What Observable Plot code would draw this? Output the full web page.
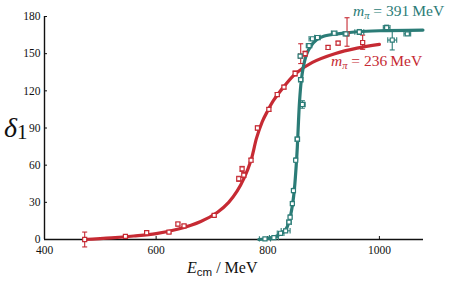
<!DOCTYPE html>
<html><head><meta charset="utf-8">
<script src="https://cdn.jsdelivr.net/npm/d3@7"></script>
<script src="https://cdn.jsdelivr.net/npm/@observablehq/plot@0.6"></script>
<style>
body{margin:0;background:#fff;}
#chart svg{overflow:visible;}
#chart svg text{font-family:"Liberation Serif","DejaVu Serif",serif;}
#chart svg g[aria-label$="tick label"]{font-size:11.5px;}
</style>
</head><body><div id="chart"></div>
<script>
// ---- data ----
const yTicks = [0, 30, 60, 90, 120, 150, 180];
const xTicks = [400, 600, 800, 1000];

// fitted curve, m_pi = 236 MeV
const curve236E = [470, 520, 560, 600, 640, 680, 710, 730, 745, 758, 770, 780, 790, 800, 810, 830, 850, 880, 920, 960, 1000];
const curve236D = [0, 1.3, 2.8, 4.8, 8.5, 14.5, 22, 30, 39, 50, 64, 82, 95, 104, 112, 124, 134, 143, 150, 154.5, 157.5];

// fitted curve, m_pi = 391 MeV
const curve391E = [784, 800, 811, 823, 832, 838, 842, 845, 848, 851, 853, 855, 857, 860, 864, 870, 877, 887, 900, 925, 960, 1000, 1078];
const curve391D = [0, 0.8, 1.9, 4.5, 8, 14, 22, 30, 42, 60, 75, 95, 112, 128, 140, 150, 156, 161, 164, 166, 167.7, 168.5, 169];

// lattice points, m_pi = 236 MeV (energy, phase, lower err, upper err)
const pts236E  = [472, 545, 583, 623, 639, 650, 704, 748, 754, 757, 770, 781.5, 802, 817, 829, 849, 859, 867, 908, 926, 942, 970];
const pts236D  = [0, 2.5, 5.5, 6, 12.5, 11, 19.5, 49, 57, 52, 64, 90, 105, 117, 123, 134, 148, 150, 155, 158.5, 166, 159];
const pts236Lo = [6, 1, 1.5, 1, 1.5, 1, 1, 2, 2, 2, 1.5, 1.5, 1.5, 1.5, 1.5, 2, 6, 2, 1.5, 1.5, 10, 5.5];
const pts236Hi = [6, 1, 1.5, 1, 1.5, 1, 1, 2, 2, 2, 1.5, 1.5, 1.5, 1.5, 1.5, 2, 10, 2, 1.5, 1.5, 13, 6];

// lattice points, m_pi = 391 MeV (energy, phase, energy err, phase err)
const pts391E  = [795, 811, 823, 832, 838, 840, 844, 846, 850, 853, 862, 859, 858, 874, 880, 889, 919, 940, 964, 1013, 1023, 1050];
const pts391D  = [0.5, 1.5, 5, 7, 14, 18, 29, 39.5, 64, 81, 109, 129, 148, 156.5, 162, 163, 166.5, 166, 167.5, 171, 161, 166];
const pts391Ex = [10, 8, 6, 8, 4, 3, 2, 2, 2, 4, 5, 4, 3, 5, 6, 5, 5, 5, 8, 6, 8, 6];
const pts391Ey = [0, 0, 0, 0, 0, 0, 0, 0, 0, 0, 3, 0, 0, 0, 0, 0, 0, 0, 2, 2, 8, 0];

const red = "#c62a33", teal = "#2b7c77";

// ---- tables ----
const c236 = curve236E.map((e, i) => ({E: e, d: curve236D[i]}));
const c391 = curve391E.map((e, i) => ({E: e, d: curve391D[i]}));
const p236 = pts236E.map((e, i) => ({E: e, d: pts236D[i], lo: pts236Lo[i], hi: pts236Hi[i]}));
const p391 = pts391E.map((e, i) => ({E: e, d: pts391D[i], ex: pts391Ex[i], ey: pts391Ey[i]}));

const capE = 4.5, capD = 2.2;
// derived error-bar geometry
const v236 = p236.map(p => ({x1: p.E, x2: p.E, y1: p.d - p.lo, y2: p.d + p.hi}));
const cap236 = p236.flatMap(p => [
  {x1: p.E - capE, x2: p.E + capE, y1: p.d - p.lo, y2: p.d - p.lo},
  {x1: p.E - capE, x2: p.E + capE, y1: p.d + p.hi, y2: p.d + p.hi}]);
const h391 = p391.filter(p => p.ex > 0).map(p => ({x1: p.E - p.ex, x2: p.E + p.ex, y1: p.d, y2: p.d}));
const hcap391 = p391.filter(p => p.ex > 0).flatMap(p => [
  {x1: p.E - p.ex, x2: p.E - p.ex, y1: p.d - capD, y2: p.d + capD},
  {x1: p.E + p.ex, x2: p.E + p.ex, y1: p.d - capD, y2: p.d + capD}]);
const v391 = p391.filter(p => p.ey > 0).map(p => ({x1: p.E, x2: p.E, y1: p.d - p.ey, y2: p.d + p.ey}));
const vcap391 = p391.filter(p => p.ey > 0).flatMap(p => [
  {x1: p.E - capE, x2: p.E + capE, y1: p.d - p.ey, y2: p.d - p.ey},
  {x1: p.E - capE, x2: p.E + capE, y1: p.d + p.ey, y2: p.d + p.ey}]);

const linkOpts = (color) => ({x1: "x1", x2: "x2", y1: "y1", y2: "y2", stroke: color, strokeWidth: 1.1});

const plot = Plot.plot({
  width: 463, height: 281,
  marginLeft: 44, marginRight: 40, marginTop: 16, marginBottom: 42,
  x: {domain: [400, 1079]},
  y: {domain: [0, 180]},
  style: {fontSize: "11.5px", background: "#fff"},
  marks: [
    Plot.axisX({ticks: xTicks, tickSize: -3, tickPadding: 9, tickFormat: d => String(d), label: null, color: "#111"}),
    Plot.axisY({ticks: yTicks, tickSize: -3, tickPadding: 7, tickFormat: d => String(d), label: null, color: "#111"}),
    Plot.ruleX([400], {y1: 0, y2: 180, stroke: "#111", strokeWidth: 1.4}),
    Plot.ruleY([0], {x1: 400, x2: 1079, stroke: "#111", strokeWidth: 1.4}),
    Plot.line(c236, {x: "E", y: "d", stroke: red, strokeWidth: 3.2, curve: "catmull-rom"}),
    Plot.line(c391, {x: "E", y: "d", stroke: teal, strokeWidth: 3.2, curve: "catmull-rom"}),
    Plot.link(v236, linkOpts(red)),
    Plot.link(cap236, linkOpts(red)),
    Plot.link(h391, linkOpts(teal)),
    Plot.link(hcap391, linkOpts(teal)),
    Plot.link(v391, linkOpts(teal)),
    Plot.link(vcap391, linkOpts(teal)),
    Plot.dot(p236, {x: "E", y: "d", symbol: "square", r: 2.3, fill: "white", stroke: red, strokeWidth: 1.2}),
    Plot.dot(p391, {x: "E", y: "d", symbol: "square", r: 2.3, fill: "white", stroke: teal, strokeWidth: 1.2})
  ]
});
document.getElementById("chart").appendChild(plot);

// ---- annotations with sub/superscripts ----
const svg = d3.select(plot);
function mlabel(x, y, color, value) {
  const t = svg.append("text").attr("x", x).attr("y", y).attr("fill", color)
    .attr("text-anchor", "start").style("font-size", "15.5px");
  t.append("tspan").style("font-style", "italic").text("m");
  t.append("tspan").attr("dy", 3).style("font-size", "10.5px").style("font-style", "italic").text("π");
  t.append("tspan").attr("dy", -3).text(" = " + value + "\u2009MeV");
}
mlabel(353, 16, teal, "391");
mlabel(331, 66, red, "236");

const yl = svg.append("text").attr("x", 4).attr("y", 137).attr("fill", "#111").attr("text-anchor", "start");
yl.append("tspan").style("font-style", "italic").style("font-size", "28px").text("δ");
yl.append("tspan").attr("dy", 2).style("font-size", "21px").text("1");

const xl = svg.append("text").attr("x", 187).attr("y", 273).attr("fill", "#111").attr("text-anchor", "start")
  .style("font-size", "16px");
xl.append("tspan").style("font-style", "italic").text("E");
xl.append("tspan").attr("dy", 3).style("font-family", "'Liberation Sans', 'DejaVu Sans', sans-serif").style("font-size", "11.5px").text("cm");
xl.append("tspan").attr("dy", -3).text(" / MeV");
</script>
</body></html>
